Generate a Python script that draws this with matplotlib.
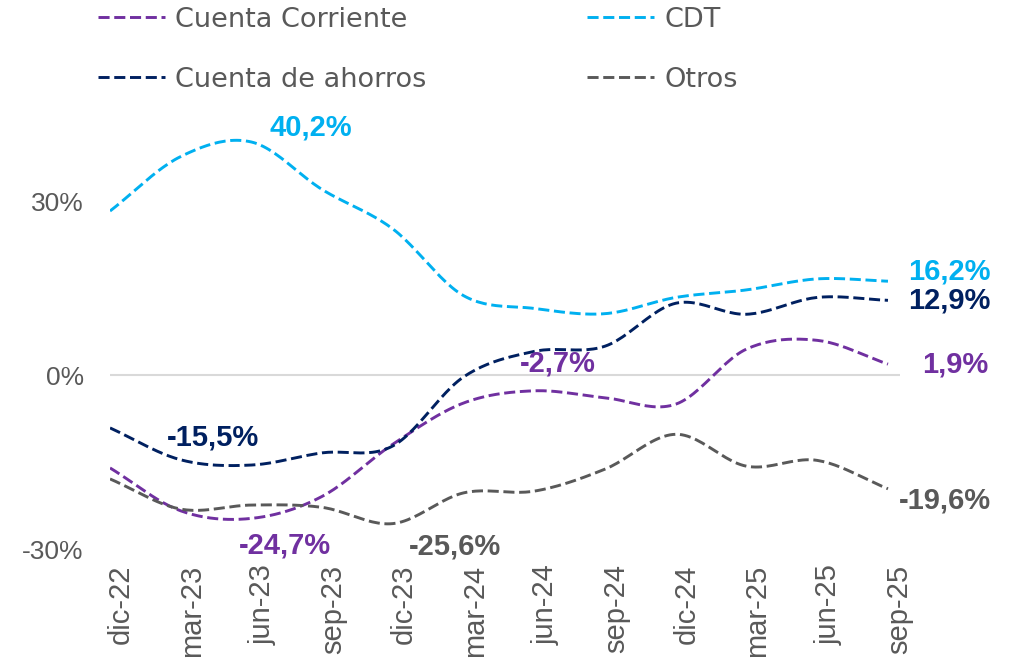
import numpy as np
import matplotlib
matplotlib.use("Agg")
import matplotlib.pyplot as plt

plt.rcParams['font.family'] = ['Liberation Sans', 'DejaVu Sans']

# quarterly periods
periods = ['dic-22', 'mar-23', 'jun-23', 'sep-23', 'dic-23', 'mar-24',
           'jun-24', 'sep-24', 'dic-24', 'mar-25', 'jun-25', 'sep-25']

# annual growth, %
cuenta_corriente = [-16.0, -23.4, -24.7, -20.9, -11.9, -4.8, -2.7, -3.9, -5.0, 4.5, 6.0, 1.9]
cuenta_ahorros = [-9.1, -14.6, -15.5, -13.4, -12.2, -0.3, 4.1, 5.0, 12.4, 10.5, 13.4, 12.9]
cdt = [28.3, 37.7, 40.2, 32.0, 25.2, 13.7, 11.5, 10.6, 13.4, 14.7, 16.6, 16.2]
otros = [-17.9, -23.1, -22.4, -22.8, -25.6, -20.3, -20.0, -16.2, -10.2, -15.7, -14.7, -19.6]

y_ticks = [-30, 0, 30]

series = [
    ('Cuenta Corriente', cuenta_corriente, '#7030A0'),
    ('Cuenta de ahorros', cuenta_ahorros, '#002060'),
    ('CDT', cdt, '#00B0F0'),
    ('Otros', otros, '#595959'),
]

# (series index, point index, x offset px, y offset px, ha)
labels = [
    (2, 2, 59, 15, 'center'),
    (1, 2, -38, 28, 'center'),
    (0, 2, 33, -27, 'center'),
    (3, 4, 62, -23, 'center'),
    (0, 6, 23, 27, 'center'),
    (2, 11, 103, 10, 'right'),
    (1, 11, 103, 0, 'right'),
    (0, 11, 100, 0, 'right'),
    (3, 11, 103, -12, 'right'),
]


def smooth(y, n=24):
    # Catmull-Rom spline through the points (like Excel's smoothed line)
    y = np.asarray(y, float)
    x = np.arange(len(y), dtype=float)
    p = np.concatenate([[2 * y[0] - y[1]], y, [2 * y[-1] - y[-2]]])
    xs, ys = [], []
    t = np.linspace(0, 1, n, endpoint=False)
    for i in range(len(y) - 1):
        p0, p1, p2, p3 = p[i], p[i + 1], p[i + 2], p[i + 3]
        seg = 0.5 * ((2 * p1) + (-p0 + p2) * t + (2 * p0 - 5 * p1 + 4 * p2 - p3) * t ** 2
                     + (-p0 + 3 * p1 - 3 * p2 + p3) * t ** 3)
        xs.append(x[i] + t)
        ys.append(seg)
    xs.append([x[-1]])
    ys.append([y[-1]])
    return np.concatenate(xs), np.concatenate(ys)


fig = plt.figure(figsize=(10.15, 6.6), dpi=100)
ax = fig.add_axes([0.1084, 0.168, 0.7783, 0.659])

ax.axhline(0, color='#D9D9D9', lw=1.5, zorder=1)

dash = (0, (3.8, 1.6))
handles = []
for name, vals, col in series:
    xs, ys = smooth(vals)
    ln, = ax.plot(xs, ys, color=col, lw=2.1, linestyle=dash, label=name, zorder=3)
    handles.append(ln)

px = 0.72  # points per pixel
for si, pi, dx, dy, ha in labels:
    name, vals, col = series[si]
    v = vals[pi]
    txt = f"{v:.1f}%".replace('.', ',')
    ax.annotate(txt, (pi, v), xytext=(dx * px, dy * px), textcoords='offset points',
                ha=ha, va='center', fontsize=21, fontweight='bold', color=col,
                annotation_clip=False, zorder=4)

ax.set_xlim(0, 11.17)
ax.set_ylim(-30, 45)
# category labels sit a little right of their points, as in the original
ax.set_xticks(np.arange(len(periods)) + 0.155)
ax.set_xticklabels(periods, rotation=90, fontsize=21, color='#595959')
ax.set_yticks(y_ticks)
ax.set_yticklabels([f"{v}%" for v in y_ticks], fontsize=19, color='#595959')
ax.tick_params(axis='x', length=0, pad=11)
ax.tick_params(axis='y', length=0, pad=19)
for s in ax.spines.values():
    s.set_visible(False)

fig.legend(handles=handles, ncol=2, loc='upper left', bbox_to_anchor=(0.0936, 0.994),
           frameon=False, borderaxespad=0, borderpad=0.1, handlelength=2.5,
           handletextpad=0.37, columnspacing=5.9, labelspacing=1.25,
           prop={'family': 'DejaVu Sans', 'size': 19.5},
           labelcolor='#595959')

fig.savefig('out.png', dpi=100)
